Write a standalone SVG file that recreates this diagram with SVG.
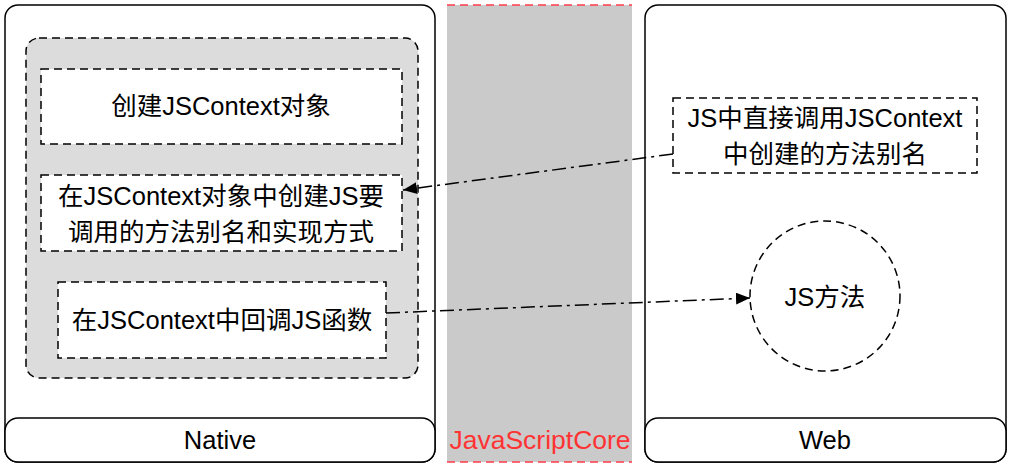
<svg xmlns="http://www.w3.org/2000/svg" width="1011" height="467" viewBox="0 0 1011 467">
<style>
text{font-family:"Liberation Sans","Noto Sans CJK SC",sans-serif;font-size:25.5px;fill:#000;text-anchor:middle}
.solid{fill:#fff;stroke:#000;stroke-width:1.5}
.dash{stroke:#000;stroke-width:1.5;stroke-dasharray:8 5}
.conn{fill:none;stroke:#000;stroke-width:1.5;stroke-dasharray:14 5 3 5}
</style>
<defs>
<marker id="arr" viewBox="0 0 14 12" refX="14" refY="6" markerWidth="14" markerHeight="12" markerUnits="userSpaceOnUse" orient="auto">
<path d="M0,0 L14,6 L0,12 Z" fill="#000"/>
</marker>
</defs>
<rect width="1011" height="467" fill="#fff"/>
<g id="native">
<rect class="solid" x="5" y="5" width="430" height="457" rx="13"/>
<rect class="solid" x="5" y="418" width="430" height="44" rx="13"/>
<text x="220" y="449">Native</text>
</g>
<g id="jsc">
<rect x="447" y="5" width="185" height="457" fill="#cacaca"/>
<line x1="447" y1="5" x2="632" y2="5" stroke="#ff3b4b" stroke-width="1.5" stroke-dasharray="8 5"/>
<line x1="447" y1="462" x2="632" y2="462" stroke="#ff3b4b" stroke-width="1.5" stroke-dasharray="8 5"/>
<text x="540" y="449" style="fill:#ff3333;font-size:26.5px">JavaScriptCore</text>
</g>
<g id="web">
<rect class="solid" x="645" y="5" width="361" height="457" rx="13"/>
<rect class="solid" x="645" y="418" width="361" height="44" rx="13"/>
<text x="825" y="449">Web</text>
</g>
<g id="native-group">
<rect class="dash" x="26" y="38" width="392" height="340" rx="13" fill="#dcdcdc"/>
</g>
<g id="create-context">
<rect class="dash" x="41" y="69" width="361" height="75" fill="#fff"/>
<text x="221" y="115">创建JSContext对象</text>
</g>
<g id="define-methods">
<rect class="dash" x="41" y="175" width="361" height="76" fill="#fff"/>
<text x="221" y="205">在JSContext对象中创建JS要</text>
<text x="221" y="241">调用的方法别名和实现方式</text>
</g>
<g id="callback">
<rect class="dash" x="58" y="282" width="328" height="76" fill="#fff"/>
<text x="222" y="329">在JSContext中回调JS函数</text>
</g>
<g id="web-call">
<rect class="dash" x="673" y="98" width="304" height="75" fill="#fff"/>
<text x="825" y="127">JS中直接调用JSContext</text>
<text x="825" y="163">中创建的方法别名</text>
</g>
<g id="js-method">
<circle class="dash" cx="825" cy="296" r="75" fill="#fff"/>
<text x="825" y="306">JS方法</text>
</g>
<g id="connectors">
<line class="conn" x1="673" y1="154" x2="403" y2="190" marker-end="url(#arr)"/>
<line class="conn" x1="386" y1="313" x2="750" y2="298" marker-end="url(#arr)"/>
</g>
</svg>
